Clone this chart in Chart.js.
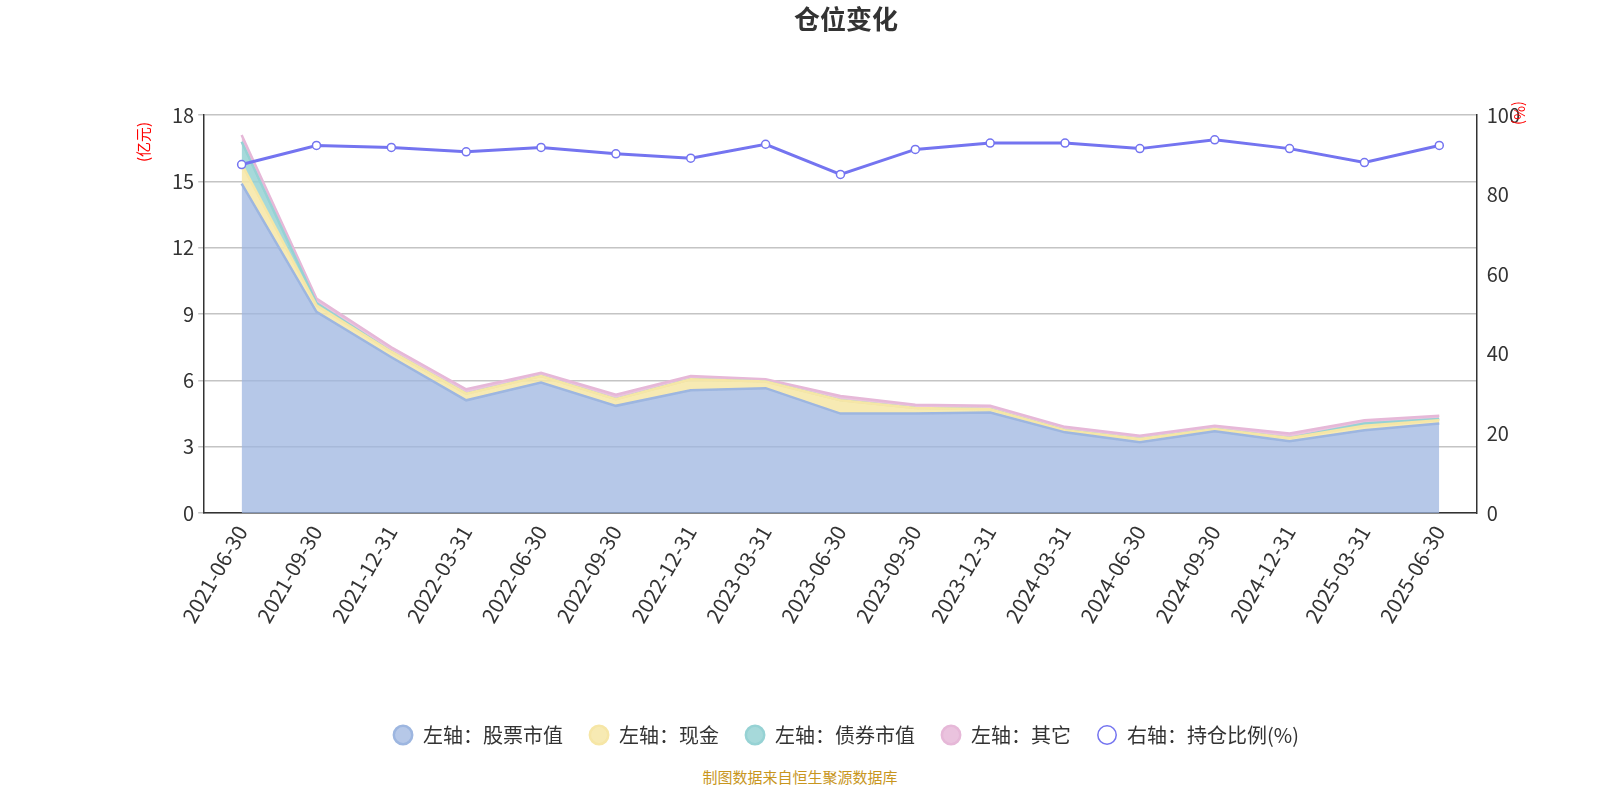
<!DOCTYPE html>
<html><head><meta charset="utf-8">
<script src="https://cdn.jsdelivr.net/npm/chart.js@4"></script>
<style>
html,body{margin:0;padding:0;background:#fff;}
#wrap{position:relative;width:1600px;height:800px;}
#src{position:absolute;left:0;width:1600px;top:766px;text-align:center;color:#c8961e;font:15px "Noto Sans CJK SC",sans-serif;}
</style></head>
<body><div id="wrap"><canvas id="c" width="1600" height="755"></canvas><div id="src">制图数据来自恒生聚源数据库</div></div>
<script>
// categories and values
const dates = ['2021-06-30','2021-09-30','2021-12-31','2022-03-31','2022-06-30','2022-09-30','2022-12-31','2023-03-31','2023-06-30','2023-09-30','2023-12-31','2024-03-31','2024-06-30','2024-09-30','2024-12-31','2025-03-31','2025-06-30'];
const stock = [14.9,9.1,7.05,5.1,5.9,4.85,5.55,5.65,4.5,4.5,4.55,3.65,3.2,3.7,3.25,3.75,4.05];
const cash  = [0.9,0.3,0.25,0.3,0.3,0.3,0.5,0.3,0.6,0.25,0.15,0.1,0.15,0.1,0.15,0.2,0.15];
const bonds = [1.0,0.1,0.0,0.0,0.0,0.0,0.0,0.0,0.0,0.0,0.0,0.0,0.0,0.0,0.0,0.1,0.05];
const other = [0.3,0.2,0.2,0.2,0.15,0.2,0.15,0.1,0.2,0.15,0.15,0.15,0.15,0.15,0.2,0.15,0.15];
const ratio = [87.6,92.4,91.9,90.8,91.9,90.3,89.2,92.7,85.1,91.4,93.0,93.0,91.6,93.8,91.6,88.1,92.4];
const leftTicks = [0,3,6,9,12,15,18];

const font = '"Noto Sans CJK SC","Noto Sans",sans-serif';
function area(label, data, line, fillc, fill) {
  return { label, data, yAxisID:'y', stack:'s', fill, borderColor:line, backgroundColor:fillc,
    borderWidth:2.5, pointRadius:0, tension:0, order:2 };
}
const axisTitles = {
  id:'axisTitles',
  afterDraw(ch) {
    const g = ch.ctx;
    g.save(); g.fillStyle = 'red'; g.font = '15px ' + font; g.textAlign = 'center';
    g.translate(143, 142); g.rotate(-Math.PI/2); g.fillText('(亿元)', 0, 0); g.restore();
    g.save(); g.fillStyle = 'red'; g.font = '15px ' + font; g.textAlign = 'center';
    g.translate(1520, 113); g.rotate(Math.PI/2); g.fillText('(%)', 0, 0); g.restore();
  }
};
new Chart(document.getElementById('c'), {
  type:'line',
  data:{ labels:dates, datasets:[
    area('左轴：股票市值', stock, '#9db6e0', 'rgba(157,182,224,0.75)', 'origin'),
    area('左轴：现金', cash, '#f6e6a6', 'rgba(246,230,166,0.85)', '-1'),
    area('左轴：债券市值', bonds, '#96d2d4', 'rgba(150,210,212,0.85)', '-1'),
    area('左轴：其它', other, '#e6b8d8', 'rgba(230,184,216,0.85)', '-1'),
    { label:'右轴：持仓比例(%)', data:ratio, yAxisID:'y1', stack:'r', borderColor:'#7474f0', backgroundColor:'#fff',
      borderWidth:3, pointRadius:4, pointBorderWidth:1.5, pointBackgroundColor:'#fff', pointBorderColor:'#7474f0', fill:false, tension:0, order:1 }
  ]},
  options:{ responsive:false, animation:false,
    layout:{ padding:{ left:168, right:76, top:0, bottom:0 } },
    plugins:{
      title:{ display:true, text:'仓位变化', color:'#333', font:{ family:font, size:26, weight:'bold' }, padding:{ top:4, bottom:80 } },
      legend:{ position:'bottom', labels:{ usePointStyle:true, pointStyle:'circle', color:'#333', font:{ family:font, size:20 }, padding:26, boxHeight:13,
        sort:(a, b) => a.datasetIndex - b.datasetIndex } },
      tooltip:{ enabled:false }
    },
    scales:{
      x:{ offset:true, grid:{ display:false, drawTicks:true, tickLength:6 }, border:{ color:'#333', width:1.5 },
        afterFit:ax => { ax.height += 70; },
        ticks:{ color:'#333', font:{ family:font, size:21 }, maxRotation:60, minRotation:60, autoSkip:false, padding:2 } },
      y:{ stacked:true, position:'left', min:0, max:18, afterBuildTicks:ax => { ax.ticks = leftTicks.map(v => ({ value:v })); },
        grid:{ color:'#c4c4c4', lineWidth:1.5, tickLength:6 }, border:{ color:'#333', width:1.5 },
        ticks:{ color:'#333', font:{ family:font, size:20 }, padding:4 } },
      y1:{ stacked:false, position:'right', min:0, max:100, grid:{ display:false, drawTicks:true, tickLength:6 }, border:{ color:'#333', width:1.5 },
        ticks:{ stepSize:20, color:'#333', font:{ family:font, size:20 }, padding:4 } }
    }
  },
  plugins:[axisTitles]
});
</script></body></html>
